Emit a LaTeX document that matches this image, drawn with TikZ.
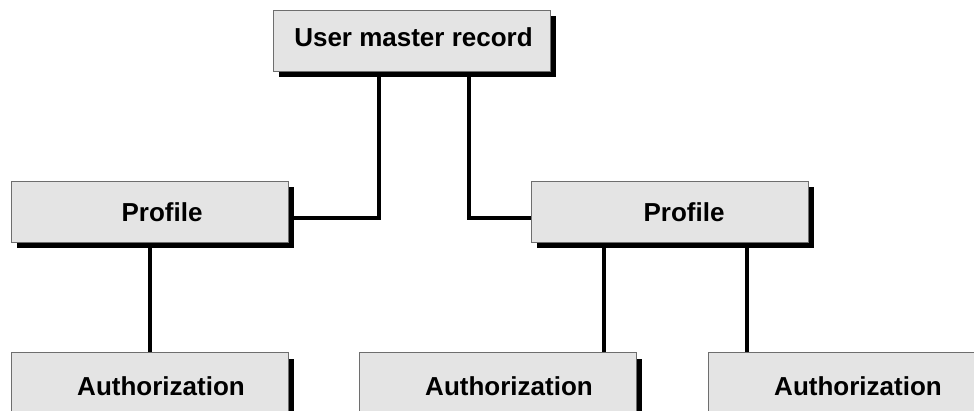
\documentclass[tikz,border=0pt]{standalone}
\usepackage{fontspec}
\setmainfont{Liberation Sans}
\usetikzlibrary{shadows}
\definecolor{boxfill}{HTML}{E4E4E4}
\definecolor{boxline}{HTML}{6E6E6E}
\begin{document}
\begin{tikzpicture}[x=1pt,y=1pt,
  recbox/.style={draw=boxline, line width=1pt, fill=boxfill, rectangle,
    minimum width=277pt, minimum height=61pt, inner sep=0pt,
    drop shadow={shadow xshift=5.5pt, shadow yshift=-5.5pt, opacity=1, fill=black}},
  lbl/.style={anchor=base, inner sep=0pt, font=\fontsize{26}{31}\selectfont\bfseries},
  conn/.style={line width=4pt, draw=black}]
\useasboundingbox (0,0) rectangle (974,-411);
\clip (0,0) rectangle (974,-411);

% boxes
\node[recbox] (top) at (412,-41.5) {};
\node[recbox] (pl)  at (150,-212.5) {};
\node[recbox] (pr)  at (670,-212.5) {};
\node[recbox] (a1)  at (150,-383.5) {};
\node[recbox] (a2)  at (498,-383.5) {};
\node[recbox] (a3)  at (847,-383.5) {};

% labels
\node[lbl] (ttop) at (413.5,-47) {User master record};
\node[lbl] (tpl)  at (162,-222) {Profile};
\node[lbl] (tpr)  at (684,-222) {Profile};
\node[lbl] (ta1)  at (161,-395) {Authorization};
\node[lbl] (ta2)  at (509,-395) {Authorization};
\node[lbl] (ta3)  at (858,-395) {Authorization};

% connectors
\draw[conn] ([xshift=-33pt]top.south) |- ([yshift=-5.5pt]pl.east);
\draw[conn] ([xshift=57pt]top.south) |- ([yshift=-6pt]pr.west);
\draw[conn] (pl.south) -- (a1.north);
\draw[conn] ([xshift=-66.5pt]pr.south) -- ([xshift=-66.5pt]pr.south |- a2.north);
\draw[conn] ([xshift=76.5pt]pr.south) -- ([xshift=76.5pt]pr.south |- a3.north);
\end{tikzpicture}
\end{document}
